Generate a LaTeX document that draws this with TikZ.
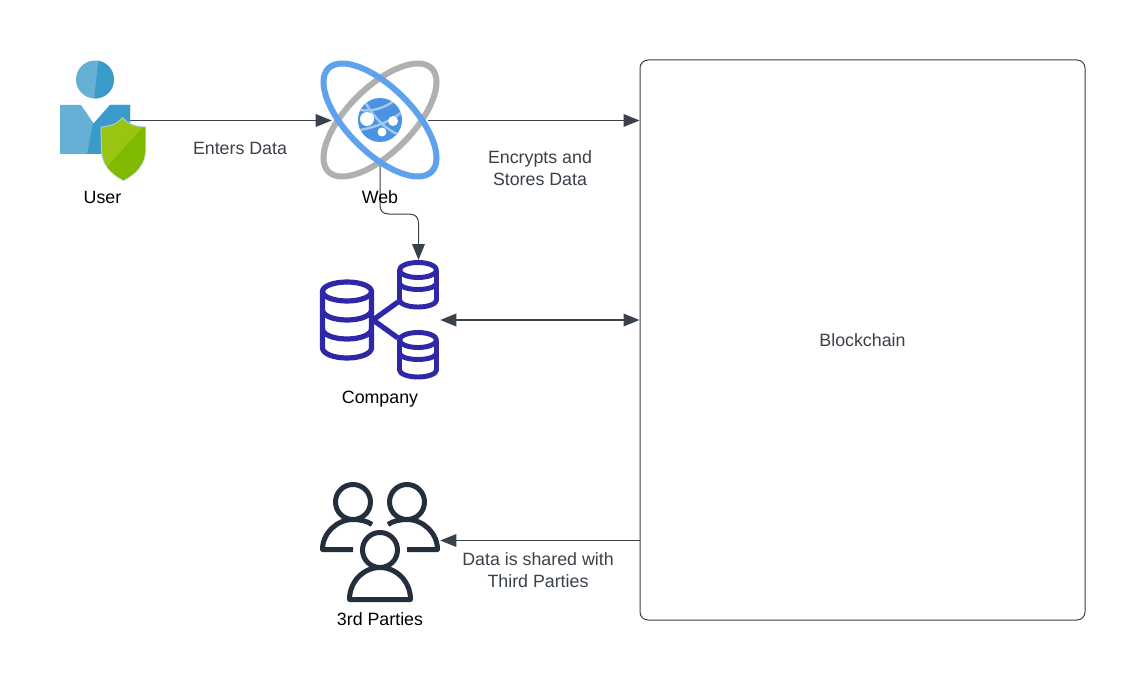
\documentclass[tikz,border=0pt]{standalone}
\usepackage{fontspec}
\setmainfont{Liberation Sans}
\usetikzlibrary{arrows.meta,calc}
\definecolor{lineC}{HTML}{3A414A}
\definecolor{txtC}{HTML}{3A414A}
\definecolor{indigo}{HTML}{2E27A8}
\definecolor{navy}{HTML}{242F3E}
\definecolor{skyL}{HTML}{66B0D6}
\definecolor{skyD}{HTML}{3A9AC9}
\definecolor{grnL}{HTML}{97C512}
\definecolor{grnD}{HTML}{7FBA00}
\definecolor{orbitB}{HTML}{5EA2EE}
\definecolor{orbitG}{HTML}{B0B0B0}
\definecolor{globeC}{HTML}{4B92E2}
\definecolor{globeL}{HTML}{A3C8EF}
\tikzset{
  x=0.75pt,y=-0.75pt,
  conn/.style={draw=lineC,line width=0.75pt,-{Triangle[length=12pt,width=9.5pt,fill=lineC]}},
  connthick/.style={draw=lineC,line width=1.1pt,{Triangle[length=12pt,width=9.5pt,fill=lineC]}-{Triangle[length=12pt,width=9.5pt,fill=lineC]}},
  darklabel/.style={font=\fontsize{13.35pt}{16.1pt}\selectfont,text=txtC,align=center,inner sep=0pt},
  blacklabel/.style={font=\fontsize{13.35pt}{16.1pt}\selectfont,text=black,align=center,inner sep=0pt},
  iconbox/.style={inner sep=0pt,minimum width=90pt,minimum height=90pt},
  dbline/.style={draw=indigo,line width=3.9pt,line join=round},
  dbsmall/.style={draw=indigo,line width=3.7pt,line join=round},
  peopleline/.style={draw=navy,line width=3.75pt,line join=round},
}
\begin{document}
\begin{tikzpicture}
\useasboundingbox (0,0) rectangle (1145,688);
\fill[white] (0,0) rectangle (1145,688);
% anchors
\node[iconbox,minimum width=63.75pt] (user) at (102.5,120.5) {};
\node[iconbox] (web) at (380,120.5) {};
\node[iconbox] (company) at (380,320) {};
\node[iconbox] (parties) at (380,540.5) {};
\node[draw=lineC,line width=0.75pt,rounded corners=6pt,inner sep=0pt,minimum width=333.75pt,minimum height=420pt] (chain) at (862.5,340) {};
\coordinate (userOut) at ($(user.east)+(-15,0)$);
\coordinate (webIn) at ($(web.west)+(12,0)$);
\coordinate (webOut) at ($(web.east)+(-12,0)$);
\coordinate (webDown) at ($(web.south)+(0,-15)$);
\coordinate (companyTop) at (418.5,260);
% connectors
\draw[conn] (userOut) -- (webIn);
\draw[conn] (webOut) -- (webOut -| chain.west);
\draw[conn] (webDown) -- (380,205) .. controls (380,211) and (383,214) .. (389,214) -- (409,214) .. controls (415,214) and (418.5,217) .. (418.5,223) -- (companyTop);
\draw[connthick] (company.east) -- (company.east -| chain.west);
\draw[conn] (parties.east -| chain.west) -- (parties.east);
% user icon
\begin{scope}
  \fill[skyL] (95,79.5) circle[radius=19];
  \begin{scope}
    \clip (99,55) -- (120,55) -- (120,100) -- (94,100) -- cycle;
    \fill[skyD] (95,79.5) circle[radius=19];
  \end{scope}
  \fill[skyL] (60,105) -- (81,105) -- (94,124) -- (110,105) -- (130,105) -- (130,154) -- (60,154) -- cycle;
  \fill[skyD] (93,124) -- (110,105) -- (130,105) -- (130,154) -- (87,154) -- cycle;
  \path[save path=\shieldpath] (122.5,118.5) .. controls (118,124) and (110,127) .. (101.5,127.5) -- (102,150) .. controls (102,163) and (110,173) .. (123.5,180) .. controls (137,173) and (145,163) .. (145,150) -- (145,127.5) .. controls (135,127) and (127,124) .. (122.5,118.5) -- cycle;
  \draw[use path=\shieldpath,draw=skyL!55,line width=1.4pt];
  \fill[use path=\shieldpath,grnL];
  \begin{scope}
    \clip[use path=\shieldpath];
    \fill[grnD] (107,167) -- (142,128) -- (160,120) -- (160,190) -- (100,190) -- cycle;
  \end{scope}
\end{scope}
% web icon
\draw[orbitG,line width=4.5pt,rotate around={45:(380,120)}] (380,120) ellipse[x radius=73,y radius=32.5];
\draw[orbitB,line width=4.5pt,rotate around={-45:(380,120)}] (380,120) ellipse[x radius=73,y radius=32.5];
\begin{scope}
  \fill[globeC] (380,120) circle[radius=22];
  \clip (380,120) circle[radius=22];
  \draw[globeL,line width=1.8pt] (364,100) .. controls (372,115) and (385,130) .. (400,135);
  \draw[globeL,line width=1.8pt] (395,100) .. controls (385,108) and (372,112) .. (360,110);
  \draw[globeL,line width=1.8pt] (360,130) .. controls (370,128) and (385,125) .. (402,112);
\end{scope}
\fill[white] (367,119) circle[radius=7];
\fill[white] (393,121) circle[radius=5];
\fill[white] (382,132) circle[radius=4.5];
% company icon
\draw[dbline] (322.5,291.5) -- (322.5,348) arc[start angle=180,end angle=0,x radius=24.5,y radius=10] -- (371.5,291.5);
\draw[dbline] (347,291.5) ellipse[x radius=24.5,y radius=9.5];
\draw[dbline] (322.5,310) arc[start angle=180,end angle=0,x radius=24.5,y radius=10];
\draw[dbline] (322.5,329) arc[start angle=180,end angle=0,x radius=24.5,y radius=10];
\foreach \cy in {270,340}{
  \draw[dbsmall] (399.5,\cy) -- (399.5,{\cy+30}) arc[start angle=180,end angle=0,x radius=18.5,y radius=7] -- (436.5,\cy);
  \draw[dbsmall] (418,\cy) ellipse[x radius=18.5,y radius=7.5];
  \draw[dbsmall] (399.5,{\cy+13}) arc[start angle=180,end angle=0,x radius=18.5,y radius=6.5];
}
\draw[dbline] (398,302) -- (373,320) -- (398,338);
% parties icon
\draw[peopleline] (353,502) circle[radius=17.5];
\draw[peopleline] (407,502) circle[radius=17.5];
\draw[peopleline] (380,550) circle[radius=17.5];
\draw[peopleline] (353,549.5) -- (322.5,549.5) .. controls (322.5,533) and (337,519.5) .. (353,519.5) .. controls (360,519.5) and (367,521) .. (372,524.5);
\draw[peopleline] (407,549.5) -- (437.5,549.5) .. controls (437.5,533) and (423,519.5) .. (407,519.5) .. controls (400,519.5) and (393,521) .. (388,524.5);
\draw[peopleline] (349.5,599.5) .. controls (349.5,581) and (364,567.5) .. (380,567.5) .. controls (396,567.5) and (410.5,581) .. (410.5,599.5) -- cycle;
% labels
\node[blacklabel] (userL) at (102.5,197.5) {User};
\node[blacklabel] (webL) at (380,197.5) {Web};
\node[blacklabel] (companyL) at (380,399.5) {Company};
\node[blacklabel] (partiesL) at (380,619.5) {3rd Parties};
\node[darklabel] (t1) at (240,148) {Enters Data};
\node[darklabel] (t2) at (540,168) {Encrypts and\\Stores Data};
\node[darklabel] (t3) at (538,570) {Data is shared with\\Third Parties};
\node[darklabel] (t4) at (862.5,340) {Blockchain};
\end{tikzpicture}
\end{document}
